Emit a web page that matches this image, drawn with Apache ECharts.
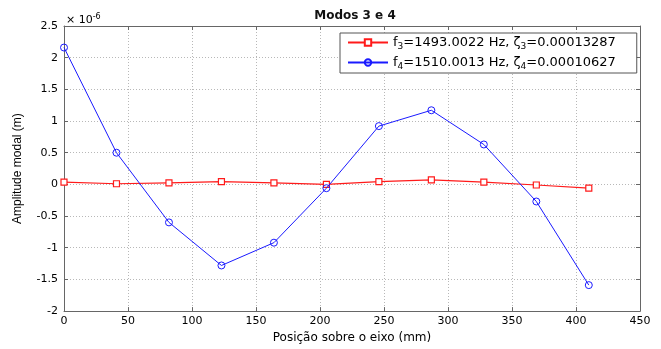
<!DOCTYPE html>
<html>
<head>
<meta charset="utf-8">
<script src="https://cdn.jsdelivr.net/npm/echarts@6/dist/echarts.min.js"></script>
<style>
  html, body { margin: 0; padding: 0; background: #fff; }
  #chart { width: 661px; height: 349px; }
</style>
</head>
<body>
<div id="chart"></div>
<script>
// Position along the shaft (mm)
var positions = [0, 41, 82, 123, 164, 205, 246, 287, 328, 369, 410];
// Modal amplitudes, in units of 1e-6 m
var mode3 = [0.035, 0.01, 0.025, 0.045, 0.025, 0.0, 0.045, 0.07, 0.035, -0.01, -0.06];
var mode4 = [2.16, 0.50, -0.60, -1.28, -0.92, -0.06, 0.92, 1.17, 0.63, -0.27, -1.59];
var legendNames = [
  'f{s|3}=1493.0022 Hz, ζ{s|3}=0.00013287',
  'f{s|4}=1510.0013 Hz, ζ{s|4}=0.00010627'
];
var xTicks = { min: 0, max: 450, step: 50 };
var yTicks = { min: -2, max: 2.5, step: 0.5 };

var FONT = 'DejaVu Sans, Verdana, sans-serif';
var NARROW = 'Liberation Sans, Arial, sans-serif';
var chart = echarts.init(document.getElementById('chart'), null, { renderer: 'canvas' });

function pairs(xs, ys) { return xs.map(function (x, i) { return [x, ys[i]]; }); }
function fmt(v) { return String(Math.round(v * 10) / 10); }

var boxLine = { show: true, onZero: false, lineStyle: { color: '#666', width: 1 } };
var boxTick = { show: true, inside: true, length: 4, lineStyle: { color: '#666' } };
var gridDots = { show: true, lineStyle: { color: '#b8b8b8', type: [1, 2], width: 1 } };

chart.setOption({
  animation: false,
  backgroundColor: '#fff',
  title: {
    text: 'Modos 3 e 4',
    left: 350, top: 5, textAlign: 'center',
    textStyle: { fontFamily: FONT, fontSize: 12, fontWeight: 'bold', color: '#111' }
  },
  grid: { left: 64, right: 21, top: 26, bottom: 30, containLabel: false },
  legend: {
    orient: 'vertical',
    left: 340, top: 33,
    padding: [3, 21, 2, 7],
    itemGap: 5,
    itemWidth: 40, itemHeight: 8,
    backgroundColor: '#fff',
    borderColor: '#555', borderWidth: 1,
    data: ['m3', 'm4'],
    formatter: function (n) { return n === 'm3' ? legendNames[0] : legendNames[1]; },
    textStyle: {
      fontFamily: FONT, fontSize: 13, color: '#000',
      rich: { s: { fontSize: 9, verticalAlign: 'bottom', padding: [8, 0, 0, 0], fontFamily: FONT } }
    }
  },
  xAxis: [{
    type: 'value', min: xTicks.min, max: xTicks.max, interval: xTicks.step,
    name: 'Posição sobre o eixo (mm)', nameLocation: 'middle', nameGap: 19,
    nameTextStyle: { fontFamily: FONT, fontSize: 12, color: '#000' },
    axisLine: boxLine, axisTick: boxTick,
    axisLabel: { fontFamily: FONT, fontSize: 11, color: '#000', margin: 5 },
    splitLine: gridDots
  }, {
    type: 'value', position: 'top', min: xTicks.min, max: xTicks.max, interval: xTicks.step,
    axisLine: boxLine, axisTick: boxTick,
    axisLabel: { show: false }, splitLine: { show: false }
  }],
  yAxis: [{
    type: 'value', min: yTicks.min, max: yTicks.max, interval: yTicks.step,
    name: 'Amplitude modal (m)', nameLocation: 'middle', nameGap: 40, nameRotate: 90,
    nameTextStyle: { fontFamily: NARROW, fontSize: 12, color: '#000' },
    axisLine: boxLine, axisTick: boxTick,
    axisLabel: { fontFamily: FONT, fontSize: 11, color: '#000', margin: 6, formatter: fmt },
    splitLine: gridDots
  }, {
    type: 'value', position: 'right', min: yTicks.min, max: yTicks.max, interval: yTicks.step,
    axisLine: boxLine, axisTick: boxTick,
    axisLabel: { show: false }, splitLine: { show: false }
  }],
  graphic: [{
    type: 'text', left: 66, top: 13,
    style: {
      text: '× 10{e|-6}',
      font: '11px ' + FONT, fill: '#000',
      rich: { e: { fontSize: 8, verticalAlign: 'top', padding: [0, 0, 7, 0], fontFamily: FONT } }
    }
  }],
  series: [{
    name: 'm3', type: 'line', data: pairs(positions, mode3),
    symbol: 'rect', symbolSize: 6, showAllSymbol: true,
    lineStyle: { color: '#ff1a1a', width: 1.2 },
    itemStyle: { color: '#ffffff', borderColor: '#ff1a1a', borderWidth: 1.2 },
    z: 3
  }, {
    name: 'm4', type: 'line', data: pairs(positions, mode4),
    symbol: 'circle', symbolSize: 7, showAllSymbol: true,
    lineStyle: { color: '#1a1aff', width: 1 },
    itemStyle: { color: 'rgba(255,255,255,0)', borderColor: '#1a1aff', borderWidth: 1 },
    z: 4
  }]
});
</script>
</body>
</html>
